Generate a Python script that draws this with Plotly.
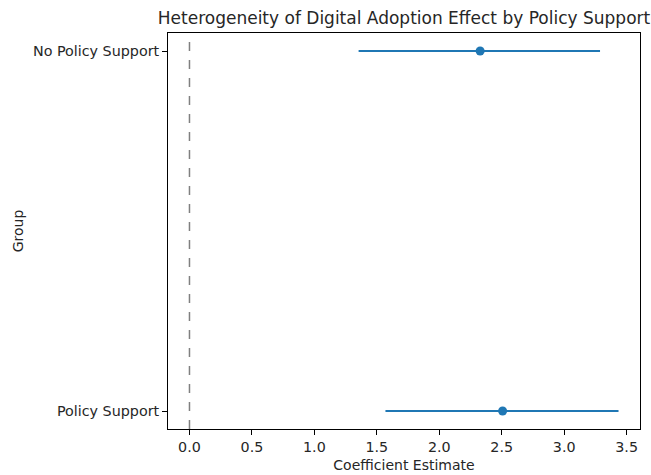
import plotly.graph_objects as go

groups = ["Policy Support", "No Policy Support"]
coef = [2.507, 2.327]
ci_low = [1.569, 1.354]
ci_high = [3.435, 3.287]

err_plus = [h - c for h, c in zip(ci_high, coef)]
err_minus = [c - l for c, l in zip(coef, ci_low)]

blue = "#1f77b4"
font = "DejaVu Sans"
txt = "#262626"

fig = go.Figure()
fig.add_trace(go.Scatter(
    x=coef, y=groups, mode="markers",
    marker=dict(color=blue, size=9),
    error_x=dict(type="data", array=err_plus, arrayminus=err_minus,
                 color=blue, thickness=2, width=0),
    showlegend=False,
))
fig.add_vline(x=0, line=dict(color="gray", dash="dash", width=1.5))

fig.update_layout(
    width=651, height=475,
    margin=dict(l=168, r=11, t=33, b=46, autoexpand=False),
    paper_bgcolor="white", plot_bgcolor="white",
    font=dict(family=font, size=14, color=txt),
    title=dict(text="Heterogeneity of Digital Adoption Effect by Policy Support",
               x=0.5, xref="paper", xanchor="center",
               y=1 - 18 / 475, yref="container", yanchor="middle",
               font=dict(size=17, family=font, color=txt)),
)
fig.update_xaxes(
    range=[-0.172, 3.607], tickvals=[0, 0.5, 1, 1.5, 2, 2.5, 3, 3.5],
    ticktext=["0.0", "0.5", "1.0", "1.5", "2.0", "2.5", "3.0", "3.5"],
    tickfont=dict(size=14.3, family=font, color=txt),
    showgrid=False, zeroline=False, showline=True, mirror=True,
    linecolor="black", linewidth=1, ticks="outside", ticklen=5,
    tickcolor="black", automargin=False,
    title=dict(text="Coefficient Estimate", standoff=6,
               font=dict(size=14, family=font, color=txt)),
)
fig.update_yaxes(
    type="category", categoryorder="array", categoryarray=groups,
    range=[-0.05, 1.05], showgrid=False, zeroline=False, showline=True,
    mirror=True, linecolor="black", linewidth=1, ticks="outside", ticklen=5,
    tickcolor="black", automargin=False,
    tickfont=dict(size=14.3, family=font, color=txt),
    title=dict(text="Group", standoff=6,
               font=dict(size=14, family=font, color=txt)),
)
fig.write_html("out.html", config={"displayModeBar": False},
               post_script="document.body.style.margin='0';document.body.style.padding='0';")
